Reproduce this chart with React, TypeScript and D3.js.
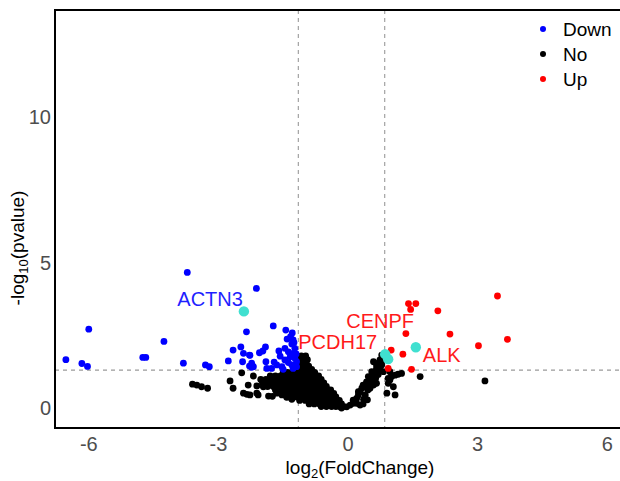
import React from "react";
import * as d3 from "d3";

// log2 fold change / -log10 p-value pairs per regulation group
const downGenes: [number, number][] = [
  [-3.72, 4.66], [-2.12, 4.11], [-6.0, 2.71], [-4.26, 2.29], [-6.53, 1.66], [-6.16, 1.53],
  [-6.03, 1.43], [-4.75, 1.74], [-4.68, 1.74], [-3.81, 1.54], [-3.3, 1.48], [-3.21, 1.42],
  [-2.35, 2.62], [-1.73, 2.82], [-1.44, 2.68], [-1.29, 2.58], [-2.66, 1.99], [-2.48, 2.1],
  [-2.27, 1.81], [-2.42, 1.88], [-2.77, 1.62], [-2.44, 1.59], [-2.28, 1.44], [-2.23, 1.4],
  [-2.05, 1.9], [-1.97, 1.96], [-1.91, 2.1], [-1.9, 1.59], [-1.88, 1.36], [-1.71, 1.58],
  [-1.65, 1.48], [-1.6, 1.96], [-1.57, 1.78], [-1.41, 2.37], [-1.27, 2.34], [-1.3, 2.2],
  [-2.28, 1.82], [-1.46, 2.05], [-1.38, 1.93], [-1.27, 1.88], [-1.23, 2.05], [-2.23, 1.54],
  [-2.19, 1.42], [-1.77, 1.36], [-1.46, 1.65], [-1.38, 1.56], [-1.3, 1.48], [-1.27, 1.36],
  [-1.34, 1.76], [-1.23, 1.71], [-1.19, 1.59], [-1.19, 1.42], [-1.53, 1.42], [-1.5, 1.33],
  [-1.2, 1.86], [-1.25, 2.25], [-1.33, 2.45], [-2.41, 3.32],
];

const upGenes: [number, number][] = [
  [3.46, 3.85], [1.4, 3.59], [1.57, 3.59], [1.45, 3.39], [2.08, 3.34], [1.34, 2.56],
  [2.36, 2.54], [3.69, 2.36], [3.02, 2.14], [1.0, 1.99], [1.27, 1.85], [0.93, 1.36],
  [1.47, 1.33], [0.86, 1.85], [0.93, 1.68], [1.57, 2.09],
];

const noGenes: [number, number][] = [
  // scattered left arm
  [-3.6, 0.82], [-3.5, 0.79], [-3.39, 0.73], [-3.25, 0.68], [-2.73, 0.93], [-2.66, 0.68],
  [-2.46, 1.21], [-2.31, 0.79], [-2.42, 0.51], [-2.34, 0.47], [-2.27, 0.45], [-2.11, 0.76],
  [-2.11, 0.51], [-2.08, 0.45], [-2.19, 1.1], [-1.96, 0.73], [-1.84, 0.41], [-1.65, 0.51],
  [-1.53, 0.45], [-1.42, 0.37], [-1.3, 0.3], [-1.75, 0.4],
  // dense central mass
  [-1.08, 1.79], [-0.98, 1.79],
  [-1.13, 1.66], [-1.03, 1.66], [-0.94, 1.66],
  [-1.17, 1.55], [-1.07, 1.55], [-0.97, 1.55],
  [-1.2, 1.44], [-1.1, 1.44], [-1.0, 1.44], [-0.91, 1.44],
  [-1.22, 1.33], [-1.12, 1.33], [-1.02, 1.33], [-0.92, 1.33], [-0.84, 1.33],
  [-1.5, 1.22], [-1.4, 1.22], [-1.29, 1.22], [-1.17, 1.22], [-1.06, 1.22], [-0.95, 1.22],
  [-0.85, 1.22], [-0.77, 1.22],
  [-1.8, 1.1], [-1.68, 1.1], [-1.56, 1.1], [-1.44, 1.1], [-1.32, 1.1], [-1.2, 1.1],
  [-1.08, 1.1], [-0.97, 1.1], [-0.86, 1.1], [-0.75, 1.1], [-0.68, 1.1],
  [-2.02, 0.98], [-1.9, 0.98], [-1.78, 0.98], [-1.66, 0.98], [-1.54, 0.98], [-1.42, 0.98],
  [-1.3, 0.98], [-1.18, 0.98], [-1.06, 0.98], [-0.95, 0.98], [-0.84, 0.98], [-0.73, 0.98],
  [-0.62, 0.98],
  [-1.98, 0.86], [-1.85, 0.86], [-1.72, 0.86], [-1.6, 0.86], [-1.47, 0.86], [-1.35, 0.86],
  [-1.22, 0.86], [-1.1, 0.86], [-0.98, 0.86], [-0.86, 0.86], [-0.75, 0.86], [-0.64, 0.86],
  [-0.56, 0.86],
  [-1.86, 0.74], [-1.73, 0.74], [-1.6, 0.74], [-1.47, 0.74], [-1.34, 0.74], [-1.21, 0.74],
  [-1.08, 0.74], [-0.96, 0.74], [-0.84, 0.74], [-0.72, 0.74], [-0.61, 0.74], [-0.5, 0.74],
  [-1.68, 0.62], [-1.55, 0.62], [-1.42, 0.62], [-1.29, 0.62], [-1.16, 0.62], [-1.04, 0.62],
  [-0.92, 0.62], [-0.8, 0.62], [-0.68, 0.62], [-0.57, 0.62], [-0.47, 0.62], [-0.4, 0.62],
  [-1.52, 0.5], [-1.39, 0.5], [-1.26, 0.5], [-1.13, 0.5], [-1.01, 0.5], [-0.89, 0.5],
  [-0.77, 0.5], [-0.65, 0.5], [-0.54, 0.5], [-0.43, 0.5], [-0.33, 0.5],
  [-1.36, 0.38], [-1.22, 0.38], [-1.09, 0.38], [-0.97, 0.38], [-0.85, 0.38], [-0.73, 0.38],
  [-0.61, 0.38], [-0.5, 0.38], [-0.39, 0.38], [-0.28, 0.38],
  [-1.12, 0.26], [-0.99, 0.26], [-0.87, 0.26], [-0.75, 0.26], [-0.63, 0.26], [-0.51, 0.26],
  [-0.4, 0.26], [-0.3, 0.26], [-0.2, 0.26],
  [-0.9, 0.14], [-0.78, 0.14], [-0.66, 0.14], [-0.54, 0.14], [-0.43, 0.14], [-0.33, 0.14],
  [-0.23, 0.14], [-0.15, 0.14],
  [-0.62, 0.05], [-0.5, 0.05], [-0.38, 0.05], [-0.28, 0.05], [-0.19, 0.05], [-0.1, 0.05],
  // right-hand band
  [0.12, 0.27], [0.2, 0.16], [0.28, 0.1], [0.35, 0.14], [0.24, 0.56], [0.32, 0.68],
  [0.39, 0.73], [0.43, 0.85], [0.51, 0.96], [0.59, 1.08], [0.63, 1.19], [0.66, 1.36],
  [0.7, 1.54], [0.74, 1.65], [0.78, 1.82], [0.82, 1.65], [0.59, 1.59], [0.66, 1.48],
  [0.74, 1.42], [0.82, 1.25], [0.55, 1.25], [0.47, 1.08], [0.43, 0.9], [0.35, 0.79],
  [0.28, 0.56], [0.24, 0.45], [0.2, 0.33], [0.16, 0.22], [0.12, 0.16], [0.05, 0.1],
  [-0.03, 0.04], [-0.15, 0.0], [0.4, 0.45], [0.46, 0.62], [0.52, 0.8], [0.58, 0.92],
  [0.64, 1.02], [0.7, 1.15], [0.74, 1.28], [0.78, 1.48], [0.45, 0.28], [0.36, 0.3],
  [0.51, 0.68], [0.59, 0.79], [0.66, 0.85],
  [0.93, 1.02], [0.97, 1.25], [1.01, 1.08], [0.97, 0.96], [0.93, 0.85], [1.05, 0.73],
  [1.09, 1.13], [1.16, 1.16], [1.24, 1.19], [0.9, 0.51], [1.09, 0.45], [1.67, 1.08],
  [3.17, 0.93],
];

// highlighted genes
const labelGenes = ["ACTN3", "CENPF", "PCDH17", "ALK"];
const labelFC = [-2.41, 0.86, 0.93, 1.57];
const labelP = [3.32, 1.85, 1.68, 2.09];
const labelGroup = ["Down", "Up", "Up", "Up"];

const xTicks = [-6, -3, 0, 3, 6];
const yTicks = [0, 5, 10];
const fcCutLow = -1.15;
const fcCutHigh = 0.85;
const pCut = 1.301;

const legendKeys = ["Down", "No", "Up"];
const colors: Record<string, string> = { Down: "#0000ff", No: "#000000", Up: "#ff0000" };
const labelColors: Record<string, string> = { Down: "#1f1fff", Up: "#ff1a1a" };

// label placement relative to its point: [dx, dy, anchor]
const labelOffsets: [number, number, string][] = [
  [-1, -5, "end"],
  [-5, -26, "middle"],
  [-11, -10, "end"],
  [7, 15, "start"],
];

export default function App() {
  const W = 620;
  const H = 481;
  const left = 55;
  const right = 660;
  const top = 10;
  const bottom = 428;
  const x = d3.scaleLinear().domain([-6.782, 7.222]).range([left, right]);
  const y = d3.scaleLinear().domain([-0.687, 13.68]).range([bottom, top]);
  const font = "'Liberation Sans', Arial, Helvetica, sans-serif";
  const r = 3.4;

  return (
    <svg
      width={W}
      height={H}
      style={{ position: "absolute", left: 0, top: 0, background: "#fff" }}
      fontFamily={font}
    >
      <defs>
        <clipPath id="panel">
          <rect x={left} y={top} width={right - left} height={bottom - top} />
        </clipPath>
      </defs>
      <rect width={W} height={H} fill="#fff" />

      <g clipPath="url(#panel)">
        {[fcCutLow, fcCutHigh].map((v) => (
          <line key={v} x1={x(v)} x2={x(v)} y1={top} y2={bottom} stroke="#9a9a9a" strokeWidth={1.1} strokeDasharray="4,4" />
        ))}
        <line x1={left} x2={right} y1={y(pCut)} y2={y(pCut)} stroke="#9a9a9a" strokeWidth={1.1} strokeDasharray="4,4" />

        {noGenes.map((d, i) => (
          <circle key={"n" + i} cx={x(d[0])} cy={y(d[1])} r={r} fill={colors.No} />
        ))}
        {downGenes.map((d, i) => (
          <circle key={"d" + i} cx={x(d[0])} cy={y(d[1])} r={r} fill={colors.Down} />
        ))}
        {upGenes.map((d, i) => (
          <circle key={"u" + i} cx={x(d[0])} cy={y(d[1])} r={r} fill={colors.Up} />
        ))}
        {labelGenes.map((g, i) => (
          <circle key={"h" + g} cx={x(labelFC[i])} cy={y(labelP[i])} r={5.2} fill="#40e0d0" />
        ))}
        {labelGenes.map((g, i) => (
          <text
            key={"t" + g}
            x={x(labelFC[i]) + labelOffsets[i][0]}
            y={y(labelP[i]) + labelOffsets[i][1]}
            textAnchor={labelOffsets[i][2] as any}
            fontSize={20}
            fill={labelColors[labelGroup[i]]}
          >
            {g}
          </text>
        ))}
      </g>

      <rect x={left} y={top} width={right - left} height={bottom - top} fill="none" stroke="#000" strokeWidth={2} />

      {xTicks.map((t) => (
        <text key={"xt" + t} x={x(t)} y={bottom + 23} textAnchor="middle" fontSize={20} fill="#4d4d4d">
          {t}
        </text>
      ))}
      {yTicks.map((t) => (
        <text key={"yt" + t} x={left - 4} y={y(t) + 7} textAnchor="end" fontSize={20} fill="#4d4d4d">
          {t}
        </text>
      ))}

      <text x={360} y={474} textAnchor="middle" fontSize={19} fill="#000">
        log<tspan fontSize={13} dy={4}>2</tspan>
        <tspan dy={-4}>(FoldChange)</tspan>
      </text>
      <text transform="translate(24,248) rotate(-90)" textAnchor="middle" fontSize={19} fill="#000">
        -log<tspan fontSize={13} dy={4}>10</tspan>
        <tspan dy={-4}>(pvalue)</tspan>
      </text>

      {legendKeys.map((k, i) => (
        <g key={"lg" + k} transform={`translate(543,${29 + i * 25})`}>
          <circle cx={0} cy={0} r={3} fill={colors[k]} />
          <text x={20} y={7} fontSize={19} fill="#000">
            {k}
          </text>
        </g>
      ))}
    </svg>
  );
}
